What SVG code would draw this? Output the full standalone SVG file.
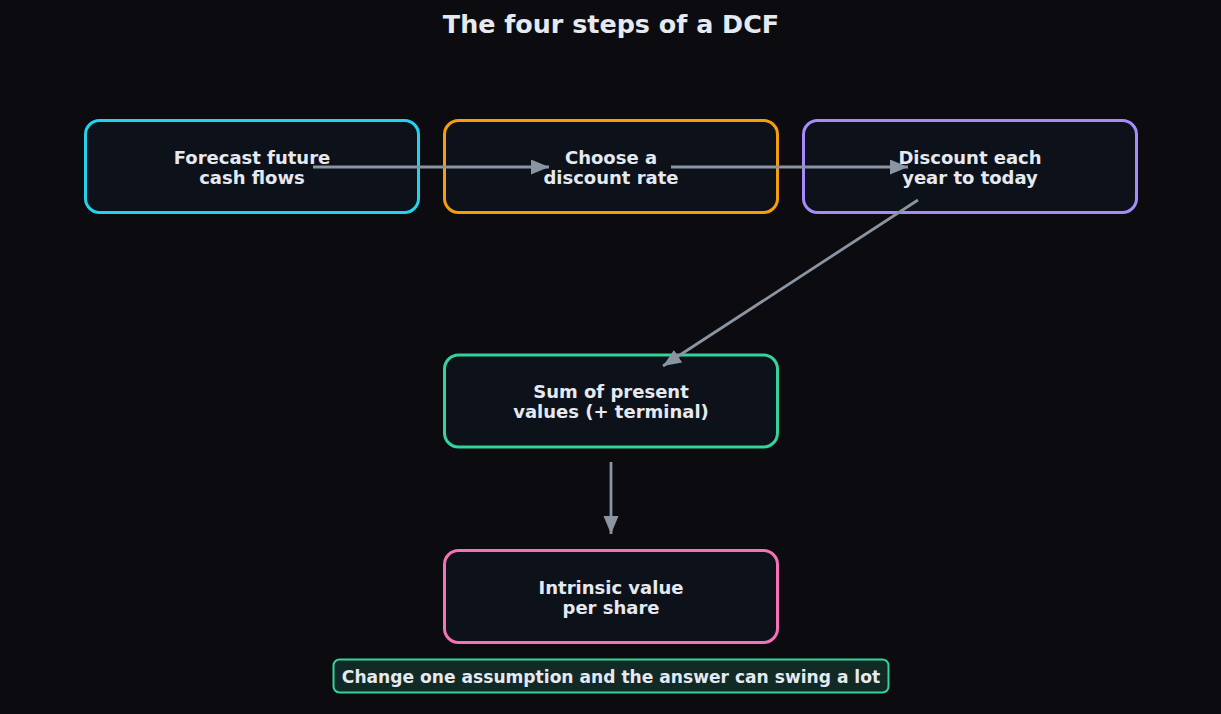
<svg xmlns="http://www.w3.org/2000/svg" width="1221" height="714" viewBox="0 0 1221 714">
<defs>
<style>
.node rect{fill:#0d111a;stroke-width:3}
.lbl{font-family:"DejaVu Sans",sans-serif;font-weight:bold;font-size:18px;fill:#e5e9f0;text-anchor:middle}
.note{font-family:"DejaVu Sans",sans-serif;font-weight:bold;font-size:17.1px;fill:#e5e9f0;text-anchor:middle}
.title{font-family:"DejaVu Sans",sans-serif;font-weight:bold;font-size:25.4px;fill:#e5e9f0;text-anchor:middle}
.edge{stroke:#8b95a1;stroke-width:2.8;fill:none;marker-end:url(#ah)}
</style>
<marker id="ah" markerUnits="userSpaceOnUse" markerWidth="20" markerHeight="17" refX="18" refY="7.5" orient="auto">
<path d="M0,0 L18,7.5 L0,15 z" fill="#8b95a1"/>
</marker>
</defs>
<rect width="1221" height="714" fill="#0b0b10"/>
<text class="title" x="611" y="33">The four steps of a DCF</text>
<g id="n1" class="node"><rect x="85.5" y="120.5" width="333" height="92" rx="14" stroke="#22d3ee"/><text class="lbl" x="252" y="164">Forecast future</text><text class="lbl" x="252" y="184">cash flows</text></g>
<g id="n2" class="node"><rect x="444.5" y="120.5" width="333" height="92" rx="14" stroke="#f59e0b"/><text class="lbl" x="611" y="164">Choose a</text><text class="lbl" x="611" y="184">discount rate</text></g>
<g id="n3" class="node"><rect x="803.5" y="120.5" width="333" height="92" rx="14" stroke="#a78bfa"/><text class="lbl" x="970" y="164">Discount each</text><text class="lbl" x="970" y="184">year to today</text></g>
<g id="n4" class="node"><rect x="444.5" y="355" width="333" height="92" rx="14" stroke="#34d399"/><text class="lbl" x="611" y="398">Sum of present</text><text class="lbl" x="611" y="418">values (+ terminal)</text></g>
<g id="n5" class="node"><rect x="444.5" y="550.5" width="333" height="92" rx="14" stroke="#f472b6"/><text class="lbl" x="611" y="594">Intrinsic value</text><text class="lbl" x="611" y="614">per share</text></g>
<g id="edges">
<line class="edge" x1="313" y1="167" x2="549" y2="167"/>
<line class="edge" x1="671" y1="167" x2="908" y2="167"/>
<line class="edge" x1="918" y1="200" x2="663" y2="366"/>
<line class="edge" x1="611" y1="462" x2="611" y2="534"/>
</g>
<g id="note"><rect x="333.5" y="659.5" width="555" height="33" rx="6" fill="#112a25" stroke="#34d399" stroke-width="2"/><text class="note" x="611" y="683">Change one assumption and the answer can swing a lot</text></g>
</svg>
